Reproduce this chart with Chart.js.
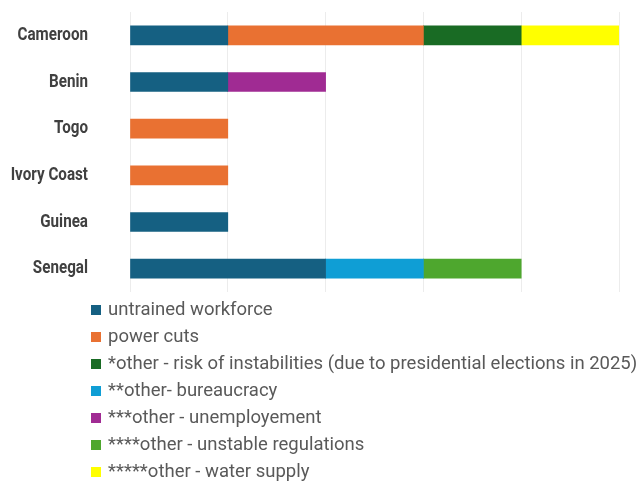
<!DOCTYPE html>
<html>
<head>
<meta charset="utf-8">
<script src="https://cdn.jsdelivr.net/npm/chart.js@4"></script>
<style>
  body { margin: 0; background: #fff; }
  #wrap { position: relative; width: 643px; height: 482px; }
  #legend { position: absolute; left: 91px; top: 296px; font-family: Roboto, "Liberation Sans", sans-serif; font-size: 18.5px; color: #595959; }
  #legend div { height: 27px; line-height: 27px; white-space: nowrap; }
  #legend span { display: inline-block; width: 10px; height: 10px; margin-right: 7px; vertical-align: 0px; }
</style>
</head>
<body>
<div id="wrap">
  <canvas id="myChart" width="643" height="482"></canvas>
  <div id="legend"></div>
</div>
<script>
const countries = ['Cameroon', 'Benin', 'Togo', 'Ivory Coast', 'Guinea', 'Senegal']

const untrained = [1, 1, null, null, 1, 2]
const powerCuts = [2, null, 1, 1, null, null]
const instabilities = [1, null, null, null, null, null]
const bureaucracy = [null, null, null, null, null, 1]
const unemployment = [null, 1, null, null, null, null]
const regulations = [null, null, null, null, null, 1]
const waterSupply = [1, null, null, null, null, null]

const series = [
    { label: 'untrained workforce', data: untrained, color: '#156082' },
    { label: 'power cuts', data: powerCuts, color: '#E97132' },
    { label: '*other - risk of instabilities (due to presidential elections in 2025)', data: instabilities, color: '#196B24' },
    { label: '**other- bureaucracy', data: bureaucracy, color: '#0F9ED5' },
    { label: '***other - unemployement', data: unemployment, color: '#A02B93' },
    { label: '****other - unstable regulations', data: regulations, color: '#4EA72E' },
    { label: '*****other - water supply', data: waterSupply, color: '#FFFF00' }
]

// the original uses a narrow font for the country names, so squeeze them a bit
const narrowLabels = {
    id: 'narrowLabels',
    afterDraw(chart) {
        const ctx = chart.ctx
        const scale = chart.scales.y
        ctx.save()
        ctx.font = 'bold 19px Roboto, sans-serif'
        ctx.fillStyle = '#404040'
        ctx.textAlign = 'right'
        ctx.textBaseline = 'middle'
        scale.ticks.forEach((t, i) => {
            const y = scale.getPixelForTick(i)
            ctx.save()
            ctx.translate(88, y)
            ctx.scale(0.8, 1)
            ctx.fillText(chart.data.labels[i], 0, 0)
            ctx.restore()
        })
        ctx.restore()
    }
}

const config = {
    type: 'bar',
    data: {
        labels: countries,
        datasets: series.map(s => ({
            label: s.label,
            data: s.data,
            backgroundColor: s.color,
            barThickness: 19
        }))
    },
    options: {
        indexAxis: 'y',
        responsive: false,
        animation: false,
        layout: { padding: { top: 12, right: 24, bottom: 190, left: 0 } },
        plugins: { legend: { display: false }, tooltip: { enabled: false } },
        scales: {
            x: {
                stacked: true,
                min: 0,
                max: 5,
                ticks: { display: false, stepSize: 1 },
                grid: { color: '#ececec', drawTicks: false },
                border: { display: false }
            },
            y: {
                stacked: true,
                grid: { display: false },
                border: { display: false },
                ticks: { display: false },
                afterFit: scale => {
                    scale.width = 130
                    scale.paddingTop = 0
                    scale.paddingBottom = 0
                }
            }
        }
    },
    plugins: [narrowLabels]
}

var myChart = new Chart(document.getElementById('myChart'), config)

// legend: one entry per line, like the original
const legend = document.getElementById('legend')
series.forEach(s => {
    const row = document.createElement('div')
    const box = document.createElement('span')
    box.style.background = s.color
    row.appendChild(box)
    row.appendChild(document.createTextNode(s.label))
    legend.appendChild(row)
})
</script>
</body>
</html>
